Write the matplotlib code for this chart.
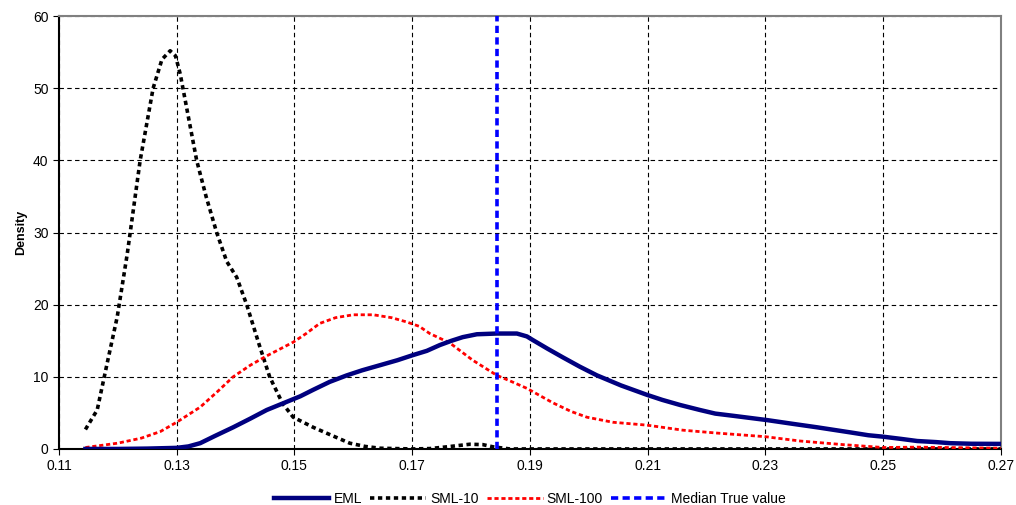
import numpy as np
import matplotlib
matplotlib.use("Agg")
import matplotlib.pyplot as plt

plt.rcParams['font.family'] = ['Liberation Sans', 'DejaVu Sans']

# EML density
eml_x = [0.1145, 0.120, 0.125, 0.130, 0.132, 0.134, 0.1365, 0.1396, 0.1425, 0.1453,
         0.148, 0.151, 0.1532, 0.1560, 0.1589, 0.1615, 0.1645, 0.1675, 0.1701,
         0.1725, 0.1747, 0.1767, 0.1786, 0.1810, 0.1844, 0.1878, 0.1895, 0.1905,
         0.1930, 0.1956, 0.1985, 0.2014, 0.2055, 0.2099, 0.2125, 0.2155, 0.2189,
         0.2215, 0.2245, 0.2303, 0.2345, 0.2388, 0.2444, 0.2475, 0.250, 0.2530,
         0.2558, 0.2590, 0.2614, 0.2650, 0.270]
eml_y = [0.0, 0.0, 0.05, 0.15, 0.35, 0.8, 1.8, 3.0, 4.2, 5.4,
         6.3, 7.3, 8.2, 9.3, 10.2, 10.9, 11.6, 12.3, 13.0,
         13.6, 14.4, 15.0, 15.5, 15.9, 16.0, 16.0, 15.6, 15.1,
         13.9, 12.7, 11.4, 10.2, 8.8, 7.5, 6.8, 6.1, 5.4,
         4.9, 4.6, 4.0, 3.5, 3.0, 2.3, 1.9, 1.7, 1.4,
         1.1, 0.95, 0.8, 0.72, 0.7]

# SML-10 density
sml10_x = [0.1145, 0.1165, 0.1182, 0.1199, 0.1216, 0.1238, 0.126, 0.1275, 0.1289,
           0.1298, 0.1306, 0.1320, 0.1334, 0.1350, 0.1368, 0.1385, 0.1402, 0.1419,
           0.1440, 0.1458, 0.148, 0.1498, 0.1532, 0.1560, 0.1594, 0.1620, 0.1645,
           0.170, 0.173, 0.176, 0.1798, 0.1820, 0.1837, 0.1866, 0.200, 0.270]
sml10_y = [2.7, 5.4, 11.9, 18.3, 27.0, 40.0, 50.0, 54.0, 55.2,
           54.5, 52.0, 46.0, 40.0, 35.0, 30.0, 26.0, 23.8, 20.0,
           14.5, 10.0, 6.3, 4.4, 3.0, 2.0, 0.8, 0.35, 0.1,
           0.0, 0.05, 0.3, 0.65, 0.6, 0.3, 0.0, 0.0, 0.0]

# SML-100 density
sml100_x = [0.1145, 0.120, 0.1240, 0.1272, 0.130, 0.134, 0.1370, 0.1396, 0.1425,
            0.1453, 0.1498, 0.1520, 0.1543, 0.1570, 0.160, 0.1634, 0.1665, 0.1691,
            0.1712, 0.173, 0.1764, 0.1803, 0.1844, 0.1870, 0.1895, 0.1939, 0.1970,
            0.1997, 0.2041, 0.2099, 0.216, 0.2218, 0.230, 0.2359, 0.2432, 0.250,
            0.2558, 0.270]
sml100_y = [0.2, 0.8, 1.5, 2.4, 3.7, 5.8, 8.0, 10.0, 11.6,
            12.9, 14.8, 16.0, 17.4, 18.2, 18.6, 18.6, 18.2, 17.6,
            17.0, 16.0, 14.7, 12.3, 10.2, 9.3, 8.4, 6.4, 5.2,
            4.4, 3.7, 3.3, 2.6, 2.2, 1.7, 1.1, 0.6, 0.2,
            0.25, 0.1]

median_true = 0.1844

xticks = [0.11, 0.13, 0.15, 0.17, 0.19, 0.21, 0.23, 0.25, 0.27]
yticks = [0, 10, 20, 30, 40, 50, 60]

fig = plt.figure(figsize=(10.16, 5.05), dpi=100)
ax = fig.add_axes([0.058, 0.111, 0.927, 0.857])

ax.plot(eml_x, eml_y, color='#00007f', lw=3.2, label='EML', zorder=4,
        solid_joinstyle='round')
ax.plot(sml10_x, sml10_y, color='black', lw=2.6, ls=(0, (1.2, 1.0)), label='SML-10', zorder=3)
ax.plot(sml100_x, sml100_y, color='red', lw=2.0, ls=(0, (1.5, 1.0)), label='SML-100', zorder=3)
ax.axvline(median_true, color='#0000ff', lw=2.6, ls=(0, (2.0, 1.2)), label='Median True value', zorder=5)

ax.set_xlim(0.11, 0.27)
ax.set_ylim(0, 60)
ax.set_xticks(xticks)
ax.set_xticklabels(['%.2f' % t for t in xticks])
ax.set_yticks(yticks)
ax.tick_params(labelsize=10, length=4, direction='out')
ax.grid(True, color='black', ls=(0, (4, 3)), lw=0.8)
ax.set_ylabel('Density', fontsize=9, fontweight='bold')

for s in ['top', 'right']:
    ax.spines[s].set_color('#808080')
    ax.spines[s].set_linewidth(1.5)
ax.spines['left'].set_linewidth(1.5)
ax.spines['bottom'].set_linewidth(1.5)

ax.legend(loc='upper center', bbox_to_anchor=(0.5, -0.07), ncol=4, frameon=False,
          fontsize=10, handlelength=4, columnspacing=0.6, handletextpad=0.3)

fig.savefig('out.png', dpi=100)
